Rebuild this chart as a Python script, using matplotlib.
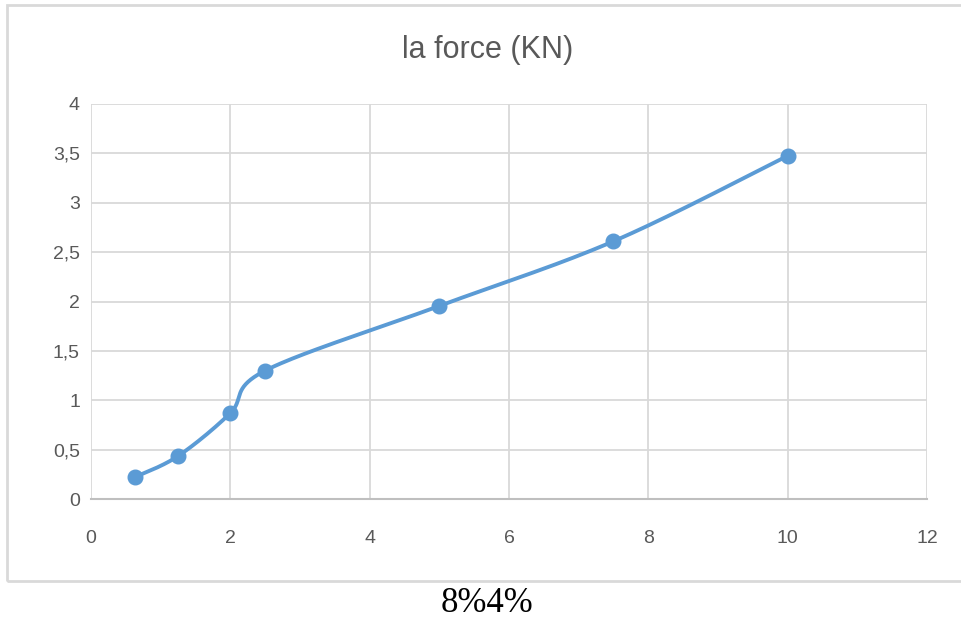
import numpy as np
import matplotlib
matplotlib.use("Agg")
import matplotlib.pyplot as plt
from matplotlib.patches import Rectangle

x_vals = [0.625, 1.25, 2.0, 2.5, 5.0, 7.5, 10.0]
y_vals = [0.22, 0.435, 0.87, 1.30, 1.955, 2.61, 3.475]
x_ticks = [0, 2, 4, 6, 8, 10, 12]
y_ticks = [0, 0.5, 1, 1.5, 2, 2.5, 3, 3.5, 4]
y_labels = ["0", "0,5", "1", "1,5", "2", "2,5", "3", "3,5", "4"]
title = "la force (KN)"
caption = "8%4%"

W, H = 961, 623
fig = plt.figure(figsize=(W / 100, H / 100), dpi=100)
font = ['Liberation Sans Narrow', 'Liberation Sans', 'DejaVu Sans']

# chart frame
fig.patches.append(Rectangle((7 / W, 1 - 581 / H), (W + 10 - 7) / W, (581 - 5) / H,
                             transform=fig.transFigure, fill=False,
                             edgecolor='#D9D9D9', linewidth=2.0))

ax = fig.add_axes([91 / W, 1 - 499 / H, (927 - 91) / W, (499 - 104) / H])
ax.set_xlim(0, 12)
ax.set_ylim(0, 4)
ax.set_xticks(x_ticks)
ax.set_yticks(y_ticks)
ax.set_xticklabels([str(t) for t in x_ticks], fontfamily=font, fontsize=14, color='#595959')
ax.set_yticklabels(y_labels, fontfamily=font, fontsize=14, color='#595959')
ax.tick_params(length=0)
ax.tick_params(axis='y', pad=8)
ax.tick_params(axis='x', pad=22)
ax.grid(True, color='#D9D9D9', linewidth=1.3)
for s in ['top', 'right', 'left']:
    ax.spines[s].set_visible(False)
ax.spines['bottom'].set_color('#BFBFBF')
ax.spines['bottom'].set_linewidth(1.5)
ax.set_axisbelow(True)


def smooth(xs, ys, n=40):
    P = np.column_stack([xs, ys]).astype(float)
    out = []
    for i in range(len(P) - 1):
        p0 = P[i - 1] if i > 0 else P[i]
        p1 = P[i]
        p2 = P[i + 1]
        p3 = P[i + 2] if i + 2 < len(P) else P[i + 1]
        c1 = p1 + (p2 - p0) / 6
        c2 = p2 - (p3 - p1) / 6
        t = np.linspace(0, 1, n)[:, None]
        seg = ((1 - t) ** 3) * p1 + 3 * ((1 - t) ** 2) * t * c1 + 3 * (1 - t) * t ** 2 * c2 + t ** 3 * p2
        out.append(seg if i == 0 else seg[1:])
    S = np.vstack(out)
    return S[:, 0], S[:, 1]


sx, sy = smooth(x_vals, y_vals)
ax.plot(sx, sy, color='#5B9BD5', linewidth=2.8, solid_capstyle='round', zorder=3)
ax.plot(x_vals, y_vals, 'o', color='#5B9BD5', markersize=10.5, zorder=4)

fig.text(488 / W, 1 - 50 / H, title, ha='center', va='center',
         fontfamily=font, fontsize=22, color='#595959')
fig.text(487 / W, 1 - 603 / H, caption, ha='center', va='center',
         fontfamily=['Liberation Serif', 'DejaVu Serif'], fontsize=25, color='black')

fig.savefig('out.png', dpi=100)
